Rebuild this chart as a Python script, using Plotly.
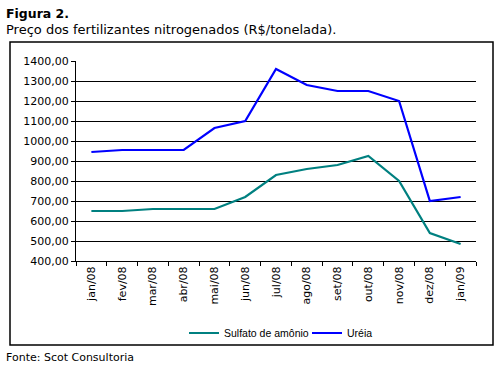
import plotly.graph_objects as go

months = ["jan/08", "fev/08", "mar/08", "abr/08", "mai/08", "jun/08", "jul/08",
          "ago/08", "set/08", "out/08", "nov/08", "dez/08", "jan/09"]
sulfato = [650, 650, 660, 660, 660, 720, 830, 860, 880, 925, 800, 540, 485]
ureia = [945, 955, 955, 955, 1065, 1100, 1360, 1280, 1250, 1250, 1200, 700, 720]

L, R, T, B = 76, 476, 61, 261
W, H = 501, 371

def px(x):
    return (x - L) / (R - L)

def py(y):
    return (B - y) / (B - T)

fig = go.Figure()
fig.add_trace(go.Scatter(x=months, y=sulfato, mode="lines", name="Sulfato de amônio",
                         line=dict(color="#008080", width=2.2)))
fig.add_trace(go.Scatter(x=months, y=ureia, mode="lines", name="Uréia",
                         line=dict(color="#0000FF", width=2.2)))

fig.update_layout(
    width=W, height=H,
    margin=dict(l=L, r=W - R, t=T, b=H - B, pad=0),
    paper_bgcolor="white", plot_bgcolor="white",
    separators=",.",
    showlegend=True,
    legend=dict(orientation="h", x=0.5775, xanchor="center", y=py(333), yanchor="middle",
                font=dict(family="Liberation Sans", size=10.5, color="black"),
                itemwidth=30, tracegroupgap=0, bgcolor="rgba(0,0,0,0)",
                entrywidth=78, entrywidthmode="pixels"),
    xaxis=dict(type="category", range=[-0.5, 12.5], showgrid=False,
               showline=True, linecolor="black", linewidth=1,
               ticks="outside", tickson="boundaries", ticklen=4, tickcolor="black",
               tickangle=-90, tickfont=dict(family="DejaVu Sans", size=11, color="black"),
               fixedrange=True),
    yaxis=dict(range=[400, 1400], dtick=100, tickformat=".2f",
               showgrid=True, gridcolor="black", gridwidth=1,
               showline=True, linecolor="black", linewidth=1,
               ticks="outside", ticklen=4, tickcolor="black",
               tickfont=dict(family="DejaVu Sans", size=11, color="black"),
               zeroline=False),
    shapes=[dict(type="rect", xref="paper", yref="paper",
                 x0=px(10), x1=px(493), y0=py(42), y1=py(345),
                 line=dict(color="black", width=1.5), fillcolor="rgba(0,0,0,0)", layer="below")],
    annotations=[
        dict(text="<b>Figura 2.</b>", xref="paper", yref="paper", x=px(4), y=py(13),
             xanchor="left", yanchor="middle", showarrow=False,
             font=dict(family="DejaVu Sans", size=12.5, color="black")),
        dict(text="Preço dos fertilizantes nitrogenados (R$/tonelada).", xref="paper", yref="paper",
             x=px(4), y=py(29), xanchor="left", yanchor="middle", showarrow=False,
             font=dict(family="DejaVu Sans", size=13, color="black")),
        dict(text="Fonte: Scot Consultoria", xref="paper", yref="paper",
             x=px(4), y=py(357), xanchor="left", yanchor="middle", showarrow=False,
             font=dict(family="DejaVu Sans", size=11, color="black")),
    ],
)

fig.write_html("out.html", config={"displayModeBar": False},
               post_script="document.body.style.margin='0';document.body.style.padding='0';")
